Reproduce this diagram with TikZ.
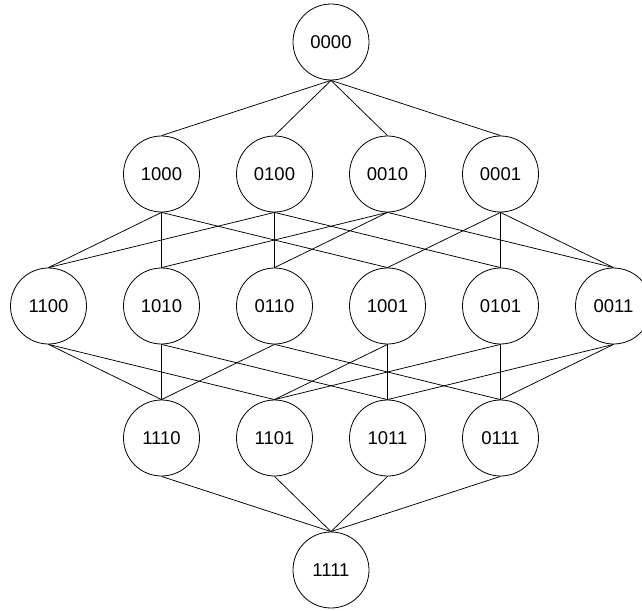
\documentclass[tikz,border=0pt]{standalone}
\usepackage{fontspec}
\setmainfont{Liberation Sans}
\begin{document}
\begin{tikzpicture}[x=1pt,y=-1pt,
  st/.style={circle,draw,line width=0.8pt,minimum size=76pt,inner sep=0pt,font=\fontsize{18.5}{20}\selectfont},
  ln/.style={line width=0.75pt}]
\useasboundingbox (0,0) rectangle (642,610);
\clip (0,0) rectangle (642,610);
% level 0
\node[st] (n0000) at (331,42) {0000};
% level 1
\node[st] (n1000) at (161.5,174) {1000};
\node[st] (n0100) at (274.5,174) {0100};
\node[st] (n0010) at (387.5,174) {0010};
\node[st] (n0001) at (500.5,174) {0001};
% level 2
\node[st] (n1100) at (48.5,306) {1100};
\node[st] (n1010) at (161.5,306) {1010};
\node[st] (n0110) at (274.5,306) {0110};
\node[st] (n1001) at (387.5,306) {1001};
\node[st] (n0101) at (500.5,306) {0101};
\node[st] (n0011) at (613.5,306) {0011};
% level 3
\node[st] (n1110) at (161.5,438) {1110};
\node[st] (n1101) at (274.5,438) {1101};
\node[st] (n1011) at (387.5,438) {1011};
\node[st] (n0111) at (500.5,438) {0111};
% level 4
\node[st] (n1111) at (331,570) {1111};
% edges
\foreach \a/\b in {0000/1000,0000/0100,0000/0010,0000/0001,
  1000/1100,1000/1010,1000/1001,
  0100/1100,0100/0110,0100/0101,
  0010/1010,0010/0110,0010/0011,
  0001/1001,0001/0101,0001/0011,
  1100/1110,1100/1101,
  1010/1110,1010/1011,
  0110/1110,0110/0111,
  1001/1101,1001/1011,
  0101/1101,0101/0111,
  0011/1011,0011/0111,
  1110/1111,1101/1111,1011/1111,0111/1111}
  \draw[ln] (n\a.south) -- (n\b.north);
\end{tikzpicture}
\end{document}
